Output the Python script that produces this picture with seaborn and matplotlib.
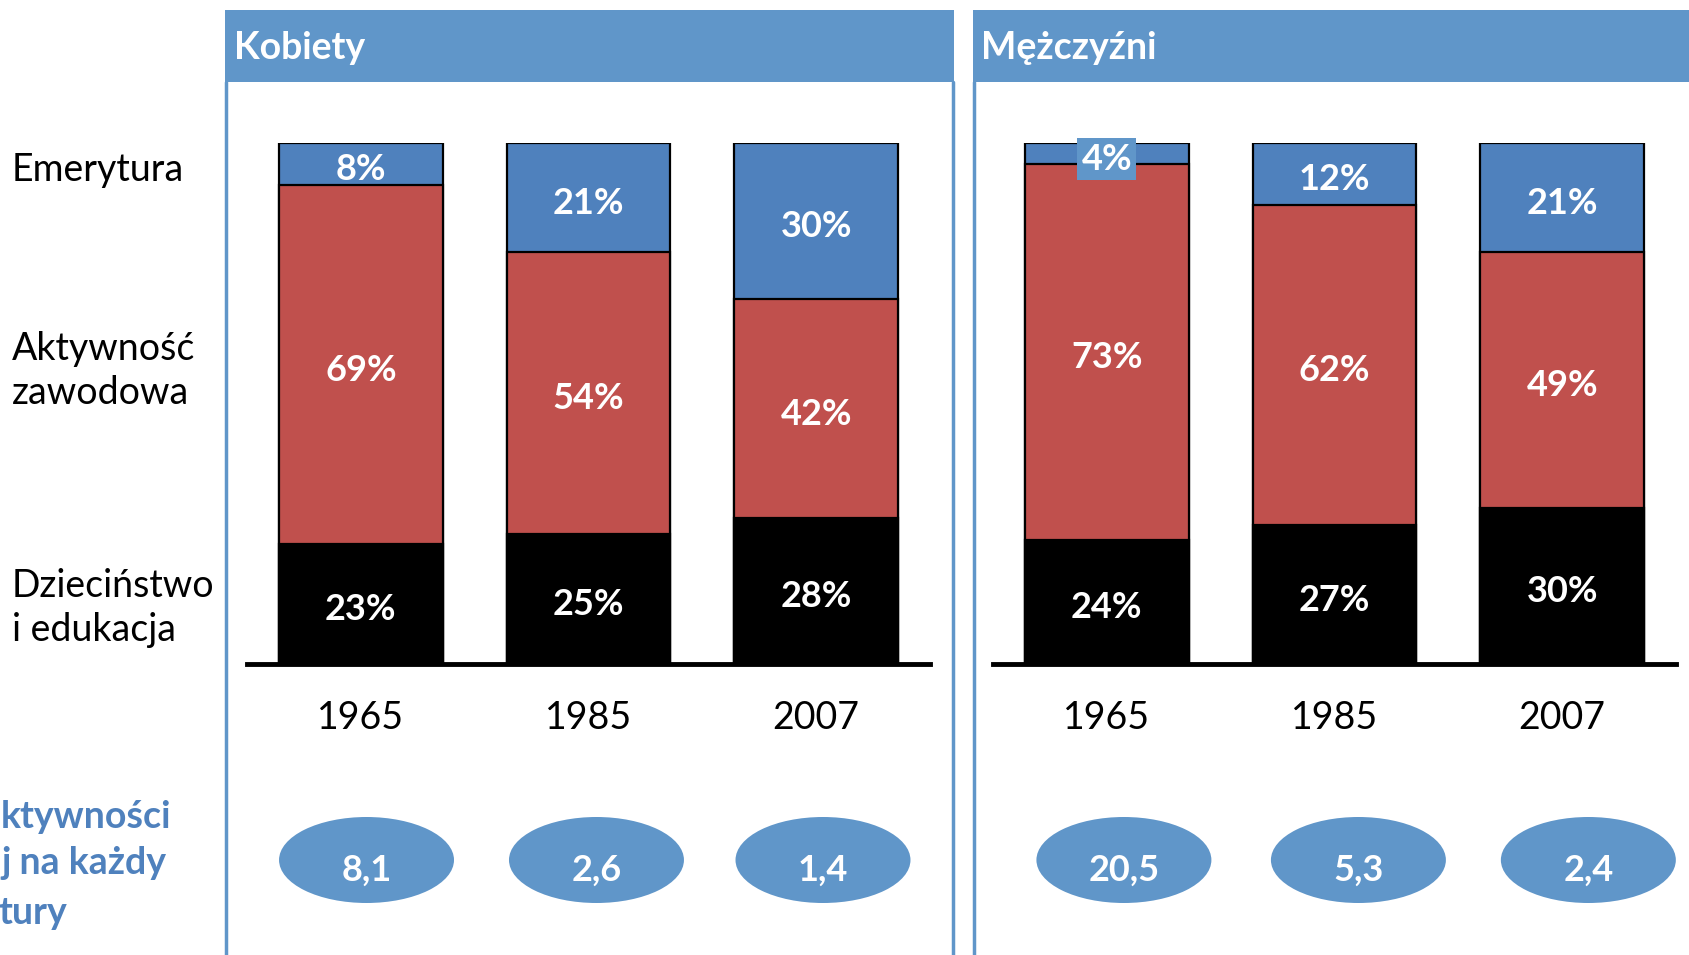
import matplotlib
matplotlib.use("Agg")
import matplotlib.pyplot as plt
import seaborn as sns
import pandas as pd
import numpy as np
from matplotlib.patches import Ellipse, Rectangle
from matplotlib.lines import Line2D

# ---------------- data ----------------
years = ["1965", "1985", "2007"]
panel_titles = ["Kobiety", "Mężczyźni"]
childhood_k = [23, 25, 28]
work_k = [69, 54, 42]
retire_k = [8, 21, 30]
childhood_m = [24, 27, 30]
work_m = [73, 62, 49]
retire_m = [4, 12, 21]
ratio_k = [8.1, 2.6, 1.4]
ratio_m = [20.5, 5.3, 2.4]
row_labels = ["Emerytura", "Aktywność\nzawodowa", "Dzieciństwo\ni edukacja"]
side_lines = ["ktywności", "j na każdy", "tury"]

# ---------------- style ----------------
sns.set_theme(style="white")
plt.rcParams["font.family"] = ["Lato", "DejaVu Sans"]

W, H = 1689, 955
BLUE = "#4F81BD"
RED = "#C0504D"
HEAD = "#6096C9"
FS = 27
FSB = 26

fig = plt.figure(figsize=(W / 100, H / 100), dpi=100)
fig.patch.set_facecolor("white")

def fx(x):
    return x / W

def fy(y):
    return 1 - y / H

# panel frames
for (x0, x1) in [(225, 954), (973, 1700)]:
    fig.add_artist(Rectangle((fx(x0), fy(82)), fx(x1 - x0), (82 - 10) / H,
                             transform=fig.transFigure, facecolor=HEAD,
                             edgecolor="none", zorder=0))
for xl in [226, 953, 974]:
    fig.add_artist(Line2D([fx(xl), fx(xl)], [fy(82), 0], transform=fig.transFigure,
                          color=HEAD, lw=2.5, zorder=0))

fig.text(fx(234), fy(48), panel_titles[0], color="white", fontsize=FS,
         fontweight="bold", ha="left", va="center")
fig.text(fx(981), fy(48), panel_titles[1], color="white", fontsize=FS,
         fontweight="bold", ha="left", va="center")

# row labels
fig.text(fx(12), fy(170), row_labels[0], fontsize=FS, ha="left", va="center",
         color="black", linespacing=1.3)
fig.text(fx(12), fy(371), row_labels[1], fontsize=FS, ha="left", va="center",
         color="black", linespacing=1.3)
fig.text(fx(12), fy(608), row_labels[2], fontsize=FS, ha="left", va="center",
         color="black", linespacing=1.3)

# blue side text (cut at the left edge in the original)
for s, x, y in zip(side_lines, [1, 1, -2], [817, 863, 913]):
    fig.text(fx(x), fy(y), s, fontsize=FS, fontweight="bold", color=BLUE,
             ha="left", va="center")

panels = [
    (247, childhood_k, work_k, retire_k, ratio_k, [0.025, 0.035, 0.03]),
    (993, childhood_m, work_m, retire_m, ratio_m, [0.075, 0.105, 0.115]),
]

for x0, ch, wk, rt, ratio, dxs in panels:
    ax = fig.add_axes([fx(x0), fy(664), 683 / W, (664 - 143) / H])
    ax.patch.set_alpha(0)
    ch = np.array(ch, float)
    wk = np.array(wk, float)
    rt = np.array(rt, float)
    tot = ch + wk + rt
    c_n = ch / tot * 100
    w_n = wk / tot * 100
    r_n = rt / tot * 100
    df = pd.DataFrame({"year": years, "top": c_n + w_n + r_n,
                       "mid": c_n + w_n, "low": c_n})
    for col, colr in [("top", BLUE), ("mid", RED), ("low", "black")]:
        sns.barplot(data=df, x="year", y=col, order=years, color=colr,
                    saturation=1, width=0.72, edgecolor="black", linewidth=1.6,
                    errorbar=None, ax=ax)
    ax.set_ylim(0, 100)
    ax.set_xlim(-0.5, 2.5)
    for i in range(3):
        segs = [(c_n[i] / 2, ch[i]),
                (c_n[i] + w_n[i] / 2, wk[i]),
                (c_n[i] + w_n[i] + r_n[i] / 2, rt[i])]
        for j, (yc, v) in enumerate(segs):
            kw = {}
            if j == 2 and r_n[i] < 6:
                kw["bbox"] = dict(boxstyle="square,pad=0.12", facecolor=HEAD,
                                  edgecolor="none")
            ax.text(i, yc - 1.1, f"{int(v)}%", color="white", fontsize=FSB,
                    fontweight="bold", ha="center", va="center", **kw)
        # ellipse with ratio
        ex = i + dxs[i]
        ey = -(860 - 664) / 521 * 100
        ax.add_patch(Ellipse((ex, ey), 175 / 227.7, 86 / 521 * 100,
                             facecolor=HEAD, edgecolor="none", clip_on=False))
        ax.text(ex, ey - 2.0, f"{ratio[i]:.1f}".replace(".", ","), color="white",
                fontsize=FSB, fontweight="bold", ha="center", va="center",
                clip_on=False)
    for sp in ["top", "left", "right"]:
        ax.spines[sp].set_visible(False)
    ax.spines["bottom"].set_linewidth(3.5)
    ax.spines["bottom"].set_color("black")
    ax.set_yticks([])
    ax.set_xlabel("")
    ax.set_ylabel("")
    ax.tick_params(axis="x", length=0, pad=26, labelsize=FS, labelcolor="black")

fig.savefig("out.png", dpi=100)
